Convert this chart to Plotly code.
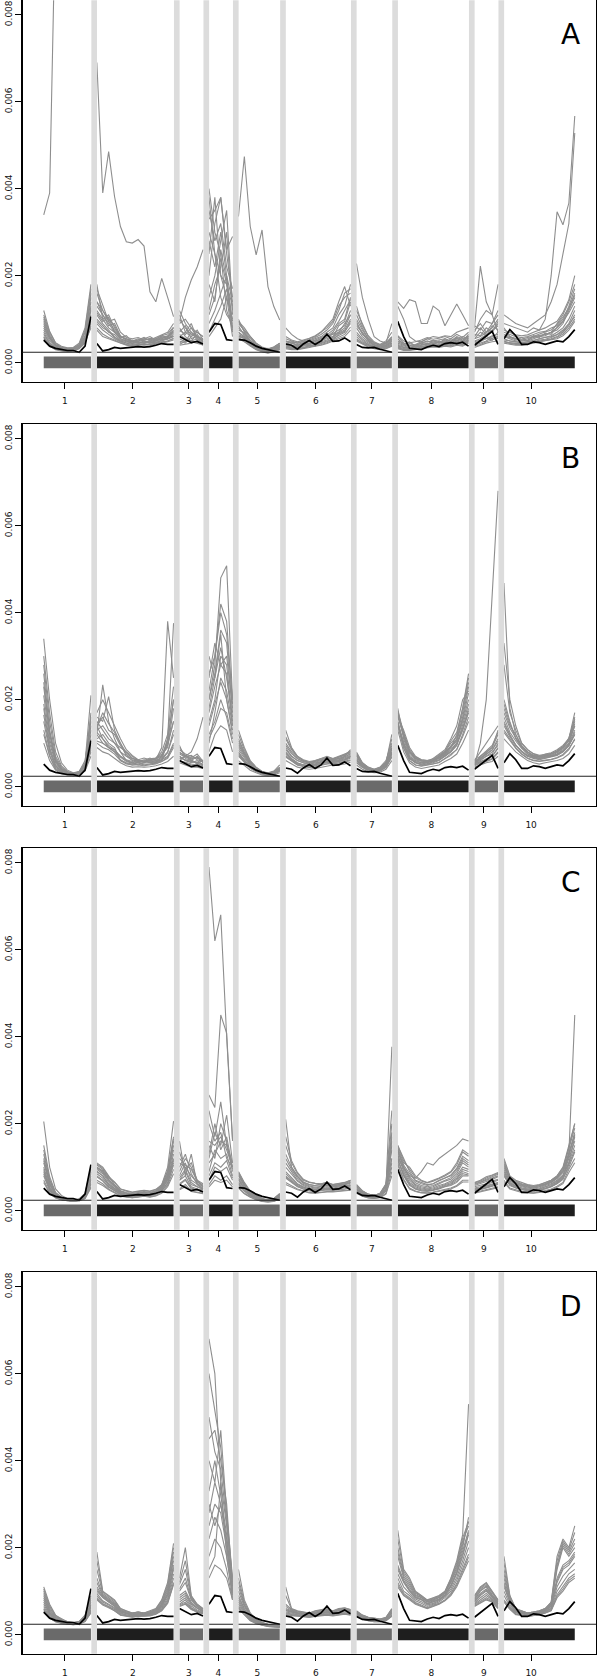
import plotly.graph_objects as go

# ---------------- data ----------------
SEG_LEN = [9, 14, 5, 5, 8, 12, 7, 13, 5, 13]
SEG_LABELS = ["1", "2", "3", "4", "5", "6", "7", "8", "9", "10"]
TICK_POS = [4.6, 16.1, 25.6, 30.6, 37.2, 47.1, 56.6, 66.7, 75.6, 83.6]
SEG_COLORS = ["#6a6a6a", "#1e1e1e"] * 5
Y_TICKS = [0, 0.002, 0.004, 0.006, 0.008]
Y_TICK_TEXT = ["0.000", "0.002", "0.004", "0.006", "0.008"]
H_LINE = 0.00024
SCALE = 1e-5  # values below are in units of 1e-5
PANEL_LETTERS = ["A", "B", "C", "D"]

BLACK = ("52 38 33 30 28 28 24 38 106 | 44 27 30 35 33 34 36 37 36 37 40 44 42 42 | 60 53 46 49 43 | "
         "70 90 88 53 51 | 53 52 46 38 33 30 27 24 | 43 40 31 43 51 42 50 66 49 50 57 48 | 42 35 34 35 31 27 24 | "
         "95 60 33 32 30 36 40 37 44 46 44 47 38 | 40 50 60 72 42 | 55 76 62 42 42 48 46 42 46 50 48 60 76")

A_GREY = [
    "110 70 45 35 33 35 45 80 180 | 160 120 100 85 60 55 50 55 50 45 50 60 55 60 | 80 60 50 55 45 | 400 300 250 120 80 | 90 75 60 45 35 30 35 45 | 50 45 40 45 50 55 60 70 80 110 130 180 | 120 90 60 45 40 45 60 | 60 45 40 35 40 45 40 50 45 55 50 60 55 | 55 60 70 90 120 | 80 60 55 50 50 55 60 65 70 90 110 140 180",
    "95 60 40 33 30 30 35 55 120 | 130 110 90 70 55 50 48 45 50 48 52 58 62 70 | 60 70 90 55 50 | 250 380 200 150 100 | 100 70 50 38 30 28 32 40 | 45 40 38 42 45 48 55 60 70 90 100 150 | 90 70 50 40 35 38 50 | 45 40 38 40 45 50 45 48 50 45 55 50 65 | 60 80 65 70 90 | 60 55 50 50 52 58 60 62 70 75 90 120 150",
    "70 45 35 30 28 30 40 70 140 | 110 90 75 60 50 45 42 44 46 45 48 50 55 65 | 50 45 60 70 60 | 150 200 280 350 120 | 70 60 45 35 28 25 28 35 | 40 38 35 40 42 45 50 58 65 75 85 120 | 70 55 45 38 35 40 45 | 38 35 32 35 38 40 42 40 45 42 48 45 55 | 45 50 60 55 70 | 55 50 48 45 48 50 55 58 62 70 80 100 130",
    "60 40 32 28 27 28 35 55 100 | 90 75 65 55 48 42 40 42 40 42 45 48 50 55 | 45 55 50 48 42 | 90 120 160 200 80 | 60 55 40 32 26 24 26 32 | 35 33 32 35 38 40 44 48 55 62 70 95 | 55 45 40 35 32 35 40 | 35 30 30 32 35 38 40 38 42 40 45 42 50 | 40 45 50 60 55 | 50 45 45 42 45 48 50 52 55 60 70 85 110",
    "105 65 42 36 32 33 40 62 160 | 180 100 80 70 55 50 45 50 55 60 52 55 60 80 | 100 80 65 60 55 | 380 250 150 110 90 | 80 65 52 40 33 30 34 42 | 55 50 45 48 52 58 65 75 90 120 160 170 | 110 80 55 45 40 42 55 | 50 45 40 42 48 55 50 52 55 50 60 55 60 | 75 90 70 80 100 | 70 65 60 58 60 65 70 72 80 85 100 130 170",
    "85 55 38 32 30 32 38 60 130 | 120 100 110 80 60 55 50 48 45 50 55 52 58 75 | 120 90 70 60 50 | 200 320 380 250 150 | 70 58 48 38 30 27 30 38 | 42 40 36 40 44 46 52 55 60 70 80 110 | 80 60 48 40 36 40 48 | 42 38 35 38 42 44 46 45 48 46 52 48 58 | 50 55 65 75 85 | 60 58 55 52 55 60 62 65 70 80 95 115 140",
    "55 38 30 27 26 27 32 45 85 | 75 60 55 50 45 40 38 40 42 40 42 45 48 52 | 40 42 45 50 40 | 60 80 100 150 60 | 55 48 38 30 25 22 25 30 | 32 30 30 32 35 38 40 44 50 55 60 75 | 50 42 36 32 30 32 38 | 32 28 28 30 32 35 36 35 38 36 40 38 45 | 35 40 45 48 50 | 45 42 40 40 42 45 48 50 52 55 62 75 95",
    "75 50 36 31 29 30 36 50 95 | 100 85 70 65 52 48 45 46 48 47 50 53 56 62 | 65 55 50 65 48 | 120 180 220 300 110 | 65 58 44 35 28 26 29 36 | 38 36 34 38 40 42 48 52 58 68 75 100 | 65 52 42 36 34 36 44 | 40 36 34 36 40 42 44 42 46 44 50 46 52 | 48 52 55 62 65 | 52 50 48 46 48 52 55 58 60 65 75 90 120",
    "80 55 40 34 31 29 34 52 110 | 115 95 105 70 58 62 48 52 58 50 55 62 58 68 | 70 85 55 62 48 | 180 140 260 190 95 | 75 68 50 42 30 33 30 38 | 42 48 38 45 40 52 48 62 58 85 95 140 | 95 65 52 42 38 44 55 | 55 42 48 38 45 40 52 45 55 48 58 52 62 | 55 70 62 85 75 | 65 60 52 58 50 62 58 68 65 82 95 125 160",
    "65 44 33 29 27 28 33 48 90 | 95 80 72 58 50 46 44 47 45 48 46 52 54 60 | 55 48 70 52 46 | 110 150 240 180 70 | 62 56 42 34 27 25 27 34 | 36 34 36 33 40 38 46 50 52 66 72 90 | 60 48 42 36 33 37 42 | 36 33 34 31 37 36 42 37 44 39 47 41 52 | 42 48 56 52 62 | 48 46 44 44 46 47 52 54 58 64 72 88 105",
    "90 58 41 34 30 31 38 58 125 | 140 110 85 90 62 52 52 49 52 54 50 56 60 72 | 75 65 80 58 52 | 280 220 300 200 140 | 85 62 50 40 32 28 33 40 | 48 44 42 46 48 52 58 64 75 95 120 145 | 85 68 52 42 38 40 52 | 48 42 44 40 46 48 50 46 52 48 56 50 60 | 65 62 80 70 95 | 62 58 56 54 58 60 66 70 75 88 105 125 155",
    "120 72 46 38 34 34 42 75 170 | 170 130 95 100 70 58 55 58 52 56 54 62 66 82 | 110 70 60 75 52 | 350 280 320 220 170 | 95 72 56 42 34 31 36 44 | 60 52 48 52 56 62 72 80 95 130 150 160 | 130 85 62 48 42 46 58 | 62 50 46 48 52 58 54 56 60 55 65 58 70 | 85 75 95 90 110 | 75 70 64 62 64 70 75 80 88 95 115 145 200",
    "58 41 31 28 26 27 33 47 80 | 80 66 58 52 46 42 40 41 43 41 44 47 50 56 | 42 50 48 44 41 | 70 100 130 170 75 | 58 50 40 31 26 23 26 31 | 34 32 31 34 36 39 42 46 52 58 65 82 | 52 44 38 34 31 33 39 | 34 30 29 31 34 36 38 36 40 38 42 40 48 | 38 42 48 52 58 | 48 44 42 41 44 46 49 51 54 58 66 80 100",
    "340 390 1050 1100 1100 1100 1100 1100 1100 | 690 390 485 382 313 278 275 283 268 163 140 194 150 106 | 95 150 190 220 260 | 330 350 380 260 290 | 336 474 313 248 305 175 129 98 | 80 65 55 50 48 50 55 60 65 70 90 110 | 228 150 100 60 50 45 90 | 140 125 145 140 90 90 130 120 85 110 135 110 85 | 80 222 140 110 70 | 90 85 80 75 70 80 75 100 200 347 317 367 567",
    "100 60 40 35 32 33 40 70 150 | 140 120 95 75 60 52 50 52 55 52 58 65 70 90 | 90 100 80 70 60 | 300 250 200 180 130 | 95 80 60 45 36 32 36 45 | 50 48 45 50 55 60 70 85 100 140 175 130 | 100 75 55 45 42 50 70 | 130 100 60 50 48 55 60 58 62 60 70 75 80 | 70 100 120 110 180 | 110 100 90 85 80 90 100 110 140 180 250 320 528",
]

B_GREY = [
    "340 200 100 55 38 32 35 60 150 | 120 234 150 110 80 60 55 50 55 60 55 70 100 150 | 80 70 60 55 60 | 300 250 350 200 120 | 80 60 45 38 32 30 35 45 | 130 90 70 60 55 60 65 70 65 70 75 80 | 80 55 45 40 45 60 100 | 180 110 70 60 55 58 60 70 80 90 120 180 260 | 60 80 100 120 140 | 200 150 110 90 80 70 65 70 75 80 90 110 170",
    "280 150 70 45 33 30 34 55 210 | 160 150 207 130 100 70 60 55 50 52 55 60 110 200 | 60 70 80 110 160 | 200 280 480 508 200 | 130 90 60 45 35 32 36 50 | 90 70 60 55 50 52 58 62 60 62 68 75 | 70 50 40 38 42 55 120 | 170 120 80 65 60 55 65 75 85 110 140 200 220 | 50 70 80 90 130 | 330 200 140 100 85 75 70 72 70 75 85 100 140",
    "230 120 60 40 32 28 30 45 100 | 140 110 90 80 70 60 55 58 62 58 60 65 80 120 | 70 60 55 60 50 | 150 200 300 280 150 | 90 70 50 40 33 30 32 40 | 80 65 55 50 48 50 52 55 58 60 62 70 | 65 48 40 36 40 50 80 | 140 100 65 55 50 52 55 60 70 80 95 140 190 | 55 60 70 75 100 | 150 120 95 80 70 65 62 65 68 72 80 95 120",
    "150 80 45 35 30 27 30 40 80 | 110 120 100 90 60 52 50 50 48 50 52 58 65 90 | 60 55 50 48 45 | 120 150 200 160 100 | 70 55 42 35 30 27 30 36 | 70 60 50 48 45 48 50 52 55 55 58 62 | 55 45 38 34 36 45 70 | 150 90 60 50 48 50 52 55 65 75 85 120 160 | 50 55 60 65 80 | 130 110 90 75 65 60 58 60 62 66 72 85 110",
    "100 60 38 30 27 25 28 36 70 | 90 80 75 65 55 48 45 46 45 46 48 52 58 70 | 55 50 45 45 42 | 80 120 140 130 80 | 60 50 38 32 27 25 27 32 | 60 52 45 42 40 42 45 48 50 50 52 56 | 50 40 35 32 33 40 60 | 130 80 55 45 42 45 48 50 58 65 75 100 130 | 45 50 55 58 70 | 110 95 80 70 60 55 52 55 58 60 65 75 95",
    "190 100 55 38 31 29 33 50 120 | 130 140 120 100 90 80 70 60 55 62 65 75 90 180 | 95 65 60 70 55 | 250 330 280 300 180 | 100 75 55 42 35 30 34 42 | 100 80 65 58 55 58 62 65 62 65 70 85 | 75 52 42 38 42 52 90 | 160 130 90 70 62 60 62 68 78 95 110 160 230 | 60 65 75 85 110 | 180 140 120 95 80 72 70 75 78 85 95 110 150",
    "120 70 40 32 28 26 29 38 90 | 100 90 85 75 60 55 52 55 58 55 57 62 70 100 | 65 70 62 52 48 | 100 170 250 220 140 | 75 60 45 36 30 28 30 38 | 75 62 52 50 48 50 55 58 56 58 62 68 | 60 46 38 35 38 48 75 | 145 95 65 55 52 55 58 62 72 82 100 135 180 | 52 58 62 70 90 | 140 115 95 82 72 68 65 68 70 74 82 98 130",
    "260 130 65 42 34 30 33 48 140 | 150 130 110 100 80 70 65 60 58 60 62 90 380 250 | 85 75 70 65 60 | 180 250 320 250 160 | 110 80 55 42 34 30 33 40 | 85 70 60 55 52 55 58 60 60 62 66 72 | 70 52 42 38 40 50 85 | 165 115 75 62 58 56 60 65 75 90 105 150 200 | 55 62 70 80 95 | 160 125 105 88 76 70 68 70 72 78 88 105 140",
    "210 110 58 39 32 29 32 48 130 | 140 160 130 120 95 75 62 58 60 66 60 68 95 150 | 75 68 72 62 58 | 170 230 280 260 140 | 95 72 52 40 33 30 33 42 | 110 85 68 60 56 58 64 66 62 68 72 78 | 72 52 44 38 42 56 95 | 170 120 82 66 60 58 62 70 80 100 115 170 240 | 58 66 78 90 120 | 190 145 112 92 80 72 68 72 76 82 92 108 160",
    "165 85 48 36 30 27 30 40 95 | 125 110 95 85 68 58 54 56 58 56 58 62 78 130 | 66 62 58 54 50 | 140 190 240 200 130 | 78 62 46 37 31 28 31 38 | 78 64 54 50 47 50 53 56 56 58 60 66 | 62 47 39 35 38 48 78 | 148 98 66 56 52 53 57 62 70 80 96 130 175 | 52 57 64 70 88 | 145 118 96 80 70 66 63 66 69 73 80 94 120",
    "300 170 80 48 35 31 34 52 170 | 170 200 170 140 110 85 72 62 58 64 66 80 120 230 | 90 72 66 75 58 | 260 300 420 380 190 | 120 85 58 44 35 31 35 44 | 115 88 70 62 58 60 64 68 64 68 74 82 | 78 55 44 40 44 56 110 | 175 125 85 68 62 60 64 72 82 105 125 180 250 | 62 70 82 95 125 | 280 170 130 100 85 76 72 74 76 82 92 112 155",
    "130 72 42 33 29 26 29 38 85 | 105 100 90 80 62 54 50 52 52 52 54 58 68 95 | 58 56 52 50 46 | 110 140 180 170 110 | 72 57 43 35 29 26 29 35 | 68 58 50 46 44 46 49 52 53 54 57 60 | 56 44 37 34 36 44 68 | 140 88 60 50 47 49 52 56 64 72 86 115 150 | 48 54 58 63 78 | 125 105 88 75 66 61 59 61 63 67 74 88 108",
    "240 125 62 41 33 30 33 50 160 | 135 170 145 125 100 78 66 60 57 61 63 72 100 200 | 78 70 64 68 56 | 200 260 360 330 170 | 105 78 56 42 34 30 34 42 | 95 76 64 58 54 56 60 63 61 64 68 76 | 72 51 42 37 41 51 88 | 162 118 80 64 60 58 61 67 76 92 108 155 215 | 57 64 74 84 105 | 170 135 112 92 79 71 69 72 75 81 91 108 145",
    "180 90 50 36 30 28 31 42 110 | 120 100 90 85 70 62 58 62 66 62 65 70 110 376 | 70 60 58 56 52 | 220 300 400 350 200 | 85 65 48 38 32 29 32 40 | 70 60 52 50 48 52 56 60 58 60 64 70 | 60 48 40 36 38 48 75 | 150 100 68 58 55 56 60 66 74 85 100 130 170 | 50 100 200 450 680 | 468 180 120 90 75 68 65 68 70 74 82 95 125",
]

C_GREY = [
    "205 100 50 35 28 25 27 40 100 | 110 100 80 60 45 40 38 40 42 40 45 60 100 206 | 160 80 130 60 50 | 150 120 200 160 90 | 90 65 45 35 28 25 28 40 | 210 100 80 65 60 58 62 65 60 62 65 70 | 60 45 38 35 40 60 120 | 150 120 90 70 65 60 62 70 75 80 95 120 110 | 60 65 70 75 80 | 120 80 70 65 60 58 60 65 70 80 100 150 200",
    "130 70 40 30 26 24 26 35 80 | 100 90 70 55 42 38 36 38 40 38 42 55 80 150 | 90 120 100 70 55 | 120 180 150 220 110 | 75 55 40 32 26 23 26 35 | 110 90 70 60 55 52 55 58 55 56 60 65 | 55 42 36 33 38 55 180 | 140 100 75 60 55 52 55 62 68 72 85 110 100 | 55 58 62 68 72 | 100 72 62 58 55 52 55 60 65 75 90 130 180",
    "110 60 36 28 25 23 25 32 70 | 90 80 62 50 40 36 34 36 38 36 40 50 75 130 | 70 90 60 55 50 | 90 140 120 130 80 | 70 50 38 30 25 22 24 32 | 90 75 62 55 50 48 50 52 50 52 55 58 | 50 40 34 32 35 50 140 | 130 90 65 55 50 48 50 55 60 65 75 95 90 | 50 52 58 62 65 | 90 65 58 52 50 48 50 55 60 68 80 120 160",
    "90 50 32 26 24 22 24 30 60 | 80 70 55 46 38 34 32 34 36 34 38 45 65 110 | 60 70 50 48 45 | 70 100 90 100 70 | 60 45 34 28 23 21 23 30 | 75 65 55 50 46 45 47 48 47 48 50 52 | 45 36 32 30 33 45 110 | 120 80 58 50 46 45 47 50 55 58 65 80 80 | 45 48 52 56 60 | 80 58 52 48 46 45 47 50 55 62 72 105 140",
    "70 42 30 25 23 21 23 28 55 | 70 62 50 42 35 32 30 32 34 32 35 42 58 95 | 50 60 45 42 40 | 60 80 70 80 60 | 55 40 32 26 22 20 22 28 | 65 58 50 46 42 41 43 44 44 45 46 48 | 42 34 30 28 31 40 90 | 110 72 52 45 42 41 43 46 50 52 58 70 70 | 42 45 48 52 55 | 70 52 48 44 42 41 43 46 50 56 65 95 120",
    "120 65 38 29 26 24 26 34 90 | 105 95 75 65 50 45 42 44 46 44 48 58 90 170 | 110 100 80 65 60 | 200 160 180 120 100 | 85 60 42 34 27 24 27 38 | 150 110 85 70 65 62 60 62 58 60 62 68 | 58 44 37 34 38 60 200 | 145 110 100 80 70 65 70 75 82 90 110 140 130 | 65 70 78 82 88 | 110 75 66 60 58 55 58 62 68 78 95 140 190",
    "100 55 34 28 25 23 25 33 75 | 95 85 66 52 42 38 36 38 40 38 42 52 78 120 | 80 110 70 60 52 | 110 130 160 150 95 | 80 58 40 32 26 23 25 34 | 100 85 68 58 52 50 52 55 52 54 57 60 | 52 41 35 32 36 50 150 | 125 95 70 58 52 50 52 58 62 68 80 100 95 | 52 55 60 65 70 | 95 68 60 55 52 50 52 58 62 70 82 110 170",
    "150 78 42 31 27 24 27 36 95 | 100 92 72 60 46 42 40 42 44 42 46 56 85 160 | 120 105 95 68 56 | 160 150 170 140 100 | 88 62 43 34 27 24 27 38 | 130 100 78 66 60 57 58 60 57 59 61 66 | 57 43 37 34 38 58 160 | 140 105 85 68 62 58 62 68 75 82 98 125 115 | 62 66 72 78 84 | 105 74 64 60 56 54 57 61 67 77 92 135 175",
    "80 46 31 26 24 22 24 30 62 | 78 68 54 46 38 34 32 34 36 34 38 46 62 105 | 62 72 52 48 44 | 80 110 100 115 75 | 62 46 35 28 23 21 23 30 | 78 66 56 50 46 45 47 48 47 48 50 53 | 46 37 32 30 33 46 100 | 118 82 60 50 46 45 47 51 56 60 68 85 82 | 46 49 53 57 61 | 82 60 53 49 47 45 47 51 55 63 74 100 135",
    "115 62 37 29 26 24 26 33 85 | 98 88 70 56 44 40 38 40 42 40 44 54 82 140 | 100 130 85 62 56 | 130 200 140 170 100 | 82 60 42 33 27 24 26 36 | 120 95 75 63 57 54 56 58 55 57 60 63 | 55 43 36 33 37 55 170 | 135 100 78 64 58 55 58 64 70 76 90 115 105 | 58 62 67 72 78 | 105 70 62 57 54 52 55 60 65 74 88 125 175",
    "65 40 29 25 23 21 23 28 52 | 65 58 48 40 34 31 30 31 33 31 34 40 55 85 | 48 55 44 41 39 | 55 70 65 70 55 | 52 39 31 25 21 20 21 27 | 60 54 48 45 41 40 42 43 43 44 45 47 | 40 33 29 28 30 38 80 | 105 70 50 44 41 40 42 45 48 50 56 66 66 | 40 43 46 50 53 | 65 50 46 42 41 40 42 45 48 54 62 88 110",
    "140 72 41 30 26 24 26 35 88 | 108 98 78 66 50 46 43 45 47 45 49 60 92 165 | 135 95 110 70 62 | 230 170 250 150 110 | 88 62 43 35 28 24 27 38 | 170 115 88 72 66 63 62 64 60 62 64 70 | 60 46 38 35 40 62 230 | 150 115 95 76 68 64 68 74 80 88 105 135 125 | 64 68 75 80 86 | 115 78 68 62 59 56 59 64 70 80 98 145 200",
    "85 48 32 26 24 22 24 31 65 | 85 75 58 48 38 35 33 35 37 35 39 48 70 115 | 70 80 55 50 48 | 266 237 450 408 163 | 65 48 36 29 24 22 24 31 | 80 70 58 52 48 46 48 50 48 50 52 55 | 48 38 33 31 34 48 377 | 115 85 62 52 48 46 48 52 58 62 72 90 85 | 48 50 54 58 62 | 85 62 55 50 48 46 48 52 56 64 76 130 450",
    "95 52 33 27 24 22 25 32 72 | 90 80 60 50 40 36 34 36 38 36 40 50 72 118 | 75 95 65 55 50 | 790 620 680 400 160 | 72 52 38 30 25 22 24 32 | 85 72 60 54 50 48 50 52 50 52 54 57 | 50 39 34 32 35 48 120 | 120 100 80 75 90 110 105 120 130 140 150 165 160 | 50 52 56 60 64 | 90 64 56 52 50 48 50 55 58 66 78 110 150",
]

D_GREY = [
    "110 70 45 35 30 28 30 45 90 | 190 100 90 80 60 55 50 52 50 55 60 80 120 210 | 130 200 90 70 60 | 680 600 350 250 120 | 150 80 50 35 28 24 22 20 | 110 60 55 52 50 55 58 60 55 60 62 58 | 55 45 40 38 36 40 60 | 240 150 130 100 90 80 85 90 100 130 170 230 530 | 90 110 120 100 80 | 180 90 60 55 50 52 55 60 75 180 220 200 250",
    "90 55 38 32 28 26 28 38 75 | 120 90 80 70 55 50 48 50 48 50 55 70 100 180 | 100 120 80 65 55 | 450 470 400 300 110 | 100 65 42 32 26 22 21 20 | 60 55 50 48 46 50 52 55 50 55 58 55 | 50 42 38 35 34 38 55 | 180 130 110 90 85 75 80 85 95 120 150 200 270 | 80 100 110 90 75 | 130 80 55 52 48 50 52 58 70 150 200 180 200",
    "75 48 34 30 27 25 27 35 65 | 100 85 75 65 52 48 45 47 46 48 52 65 90 150 | 80 90 70 60 52 | 330 400 320 230 100 | 80 55 38 30 25 21 20 19 | 55 52 48 46 44 48 50 52 48 52 55 52 | 48 40 36 34 33 36 50 | 150 120 100 85 80 70 75 80 90 110 140 180 230 | 75 90 100 85 70 | 110 75 52 50 46 48 50 55 65 120 150 160 180",
    "65 42 32 28 26 24 26 32 58 | 90 75 68 60 48 45 43 45 44 46 50 60 80 130 | 70 80 62 55 50 | 250 300 280 200 90 | 70 50 35 28 24 20 19 18 | 50 48 45 44 42 45 47 48 46 48 50 48 | 45 38 34 32 32 34 45 | 130 100 90 78 72 65 70 75 85 100 125 160 200 | 70 80 90 80 65 | 90 65 50 48 44 46 48 52 60 100 120 140 150",
    "55 38 30 26 24 23 24 30 50 | 80 68 62 55 45 42 40 42 42 43 47 55 72 115 | 65 70 58 52 48 | 180 220 200 150 80 | 60 45 32 26 22 19 18 17 | 45 44 42 41 40 42 44 45 43 45 47 45 | 42 36 32 30 30 32 42 | 110 90 80 70 65 60 65 70 78 90 110 140 170 | 65 72 80 75 60 | 75 58 46 45 42 44 46 50 55 85 100 120 130",
    "100 62 42 34 29 27 29 42 85 | 150 95 85 75 58 52 50 52 50 52 58 75 110 190 | 115 150 85 68 58 | 400 350 470 280 130 | 120 70 45 34 27 23 21 20 | 70 58 52 50 48 52 55 58 52 58 60 56 | 52 44 39 37 35 38 58 | 200 140 120 95 88 78 82 88 98 125 160 215 250 | 85 105 115 95 78 | 150 85 58 54 50 52 54 60 72 160 210 190 220",
    "85 52 36 31 27 26 27 36 70 | 110 88 78 68 53 49 46 48 47 49 53 68 95 160 | 90 100 75 62 54 | 300 250 300 220 105 | 90 60 40 31 25 21 20 19 | 58 53 49 47 45 49 51 53 49 53 56 53 | 49 41 37 35 34 37 52 | 160 125 105 88 82 72 78 82 92 115 145 190 240 | 78 95 105 88 72 | 120 78 54 51 47 49 51 56 68 130 160 170 190",
    "60 40 31 27 25 24 25 31 55 | 85 72 65 58 46 44 42 44 43 45 48 58 76 120 | 68 75 60 53 49 | 150 180 350 180 85 | 65 48 34 27 23 20 19 18 | 48 46 44 42 41 44 46 47 45 47 49 47 | 44 37 33 31 31 33 44 | 120 95 85 74 68 62 68 72 80 95 118 150 185 | 68 76 85 78 62 | 80 62 48 46 43 45 47 51 58 92 110 130 140",
    "95 58 40 33 29 27 29 40 80 | 130 92 82 72 56 51 48 50 48 51 56 72 105 170 | 105 130 82 66 56 | 500 420 380 260 115 | 110 68 44 33 27 22 21 20 | 65 56 51 49 47 51 53 56 51 56 59 55 | 51 43 38 36 35 37 56 | 190 135 115 92 86 76 80 86 96 122 155 205 260 | 82 102 112 92 76 | 140 82 56 53 49 51 53 59 71 155 205 185 210",
    "70 45 33 29 26 25 26 33 62 | 95 78 70 62 50 46 44 46 45 47 51 62 85 140 | 75 85 66 57 51 | 280 350 300 210 95 | 75 52 36 29 24 20 19 18 | 52 50 46 45 43 46 48 50 47 50 52 50 | 46 39 35 33 32 35 48 | 140 110 95 82 76 68 72 78 88 105 132 170 215 | 72 85 95 82 68 | 100 70 51 49 45 47 49 53 62 110 135 150 165",
    "105 66 44 36 30 28 30 44 88 | 170 98 88 78 60 54 50 52 50 53 59 78 115 200 | 120 170 88 70 60 | 600 520 430 270 125 | 130 75 48 35 28 24 22 20 | 90 59 54 51 49 54 57 59 54 59 61 57 | 54 45 40 38 36 39 59 | 220 145 125 98 89 79 84 89 99 128 165 222 260 | 88 108 118 98 79 | 165 88 59 55 50 52 55 60 74 170 215 195 235",
    "80 50 35 30 27 25 27 35 68 | 105 86 76 66 52 48 45 47 46 48 52 66 92 155 | 85 95 72 61 53 | 220 270 240 180 95 | 85 58 39 30 25 21 20 19 | 56 52 48 46 44 48 50 52 48 52 55 52 | 48 40 36 34 33 36 50 | 155 122 102 86 81 71 76 81 91 112 142 185 235 | 76 92 102 86 71 | 115 76 53 50 46 48 50 55 66 125 155 165 185",
    "58 39 30 27 25 23 25 31 52 | 82 70 64 56 46 43 41 43 43 44 48 56 74 118 | 66 72 59 52 48 | 130 160 150 130 80 | 62 46 33 26 22 19 18 17 | 46 45 43 42 40 43 45 46 44 46 48 46 | 43 36 32 30 30 32 43 | 115 92 82 72 66 61 66 71 79 92 114 145 178 | 66 74 82 76 61 | 78 60 47 45 42 44 46 50 56 88 105 125 135",
]

PANELS = [A_GREY, B_GREY, C_GREY, D_GREY]

# ---------------- helpers ----------------
def parse(s):
    parts = [[int(v) for v in p.split()] for p in s.split("|")]
    assert [len(p) for p in parts] == SEG_LEN, [len(p) for p in parts]
    return parts

seg_start = []
acc = 1
for n in SEG_LEN:
    seg_start.append(acc)
    acc += n
seg_end = [s + n - 1 for s, n in zip(seg_start, SEG_LEN)]

def to_xy(s):
    xs, ys = [], []
    for k, part in enumerate(parse(s)):
        for j, v in enumerate(part):
            xs.append(seg_start[k] + j)
            ys.append(v * SCALE)
        xs.append(None)
        ys.append(None)
    return xs, ys

# ---------------- layout geometry ----------------
W, H = 600, 1677
PANEL_TOPS = [0.3, 424.3, 848.3, 1272.3]
PANEL_H = 381.4
XDOM = [22.5 / W, 596.0 / W]
XRANGE = [-2.6, 94.6]
YRANGE = [-0.000437, 0.00833]

fig = go.Figure()
shapes = []
annotations = []
FONT = "DejaVu Sans"

for i, grey in enumerate(PANELS):
    n = i + 1
    xa = "x" if n == 1 else f"x{n}"
    ya = "y" if n == 1 else f"y{n}"
    for s in grey:
        xs, ys = to_xy(s)
        fig.add_trace(go.Scatter(x=xs, y=ys, mode="lines", xaxis=xa, yaxis=ya,
                                 line=dict(color="#8e8e8e", width=1.1), hoverinfo="skip",
                                 showlegend=False))
    xs, ys = to_xy(BLACK)
    fig.add_trace(go.Scatter(x=xs, y=ys, mode="lines", xaxis=xa, yaxis=ya,
                             line=dict(color="#000000", width=1.7), hoverinfo="skip",
                             showlegend=False))

    top = PANEL_TOPS[i]
    dom = [1 - (top + PANEL_H) / H, 1 - top / H]
    fig.layout[f"xaxis{'' if n == 1 else n}"] = dict(
        domain=XDOM, range=XRANGE, anchor=ya, showgrid=False, zeroline=False,
        tickmode="array", tickvals=TICK_POS, ticktext=SEG_LABELS,
        ticks="outside", ticklen=6, tickwidth=1, tickcolor="#000",
        showline=True, mirror=True, linecolor="#000", linewidth=1.3,
        tickfont=dict(family=FONT, size=9, color="#111"), automargin=False,
        ticklabelstandoff=4,
    )
    fig.layout[f"yaxis{'' if n == 1 else n}"] = dict(
        domain=dom, range=YRANGE, anchor=xa, showgrid=False, zeroline=False,
        tickmode="array", tickvals=Y_TICKS, ticktext=Y_TICK_TEXT, tickangle=-90,
        ticks="outside", ticklen=6, tickwidth=1, tickcolor="#000",
        showline=True, mirror=True, linecolor="#000", linewidth=1.3,
        tickfont=dict(family=FONT, size=9, color="#111"), automargin=False,
    )

    # segment bars along the baseline
    for k in range(len(SEG_LEN)):
        shapes.append(dict(type="rect", xref=xa, yref=ya, x0=seg_start[k], x1=seg_end[k],
                           y0=-0.00013, y1=0.00014, fillcolor=SEG_COLORS[k],
                           line=dict(width=0), layer="below"))
    # horizontal reference line
    shapes.append(dict(type="line", xref=f"{xa} domain", yref=ya, x0=0, x1=1,
                       y0=H_LINE, y1=H_LINE, line=dict(color="#222", width=1.2), layer="above"))
    # light grey separators between segments
    for k in range(len(SEG_LEN) - 1):
        shapes.append(dict(type="rect", xref=xa, yref=f"{ya} domain",
                           x0=seg_end[k] + 0.07, x1=seg_end[k] + 1.03, y0=0, y1=1,
                           fillcolor="#dcdcdc", line=dict(width=0), layer="above"))
    annotations.append(dict(text=PANEL_LETTERS[i], xref=f"{xa} domain", yref=f"{ya} domain",
                            x=0.956, y=1 - 34 / PANEL_H, xanchor="center", yanchor="middle",
                            showarrow=False, font=dict(family=FONT, size=28, color="#000")))

fig.update_layout(width=W, height=H, margin=dict(l=0, r=0, t=0, b=0),
                  paper_bgcolor="white", plot_bgcolor="white",
                  shapes=shapes, annotations=annotations, showlegend=False)

fig.write_html("out.html", config={"displayModeBar": False, "staticPlot": True},
               post_script="document.body.style.margin='0';document.body.style.overflow='hidden';")
